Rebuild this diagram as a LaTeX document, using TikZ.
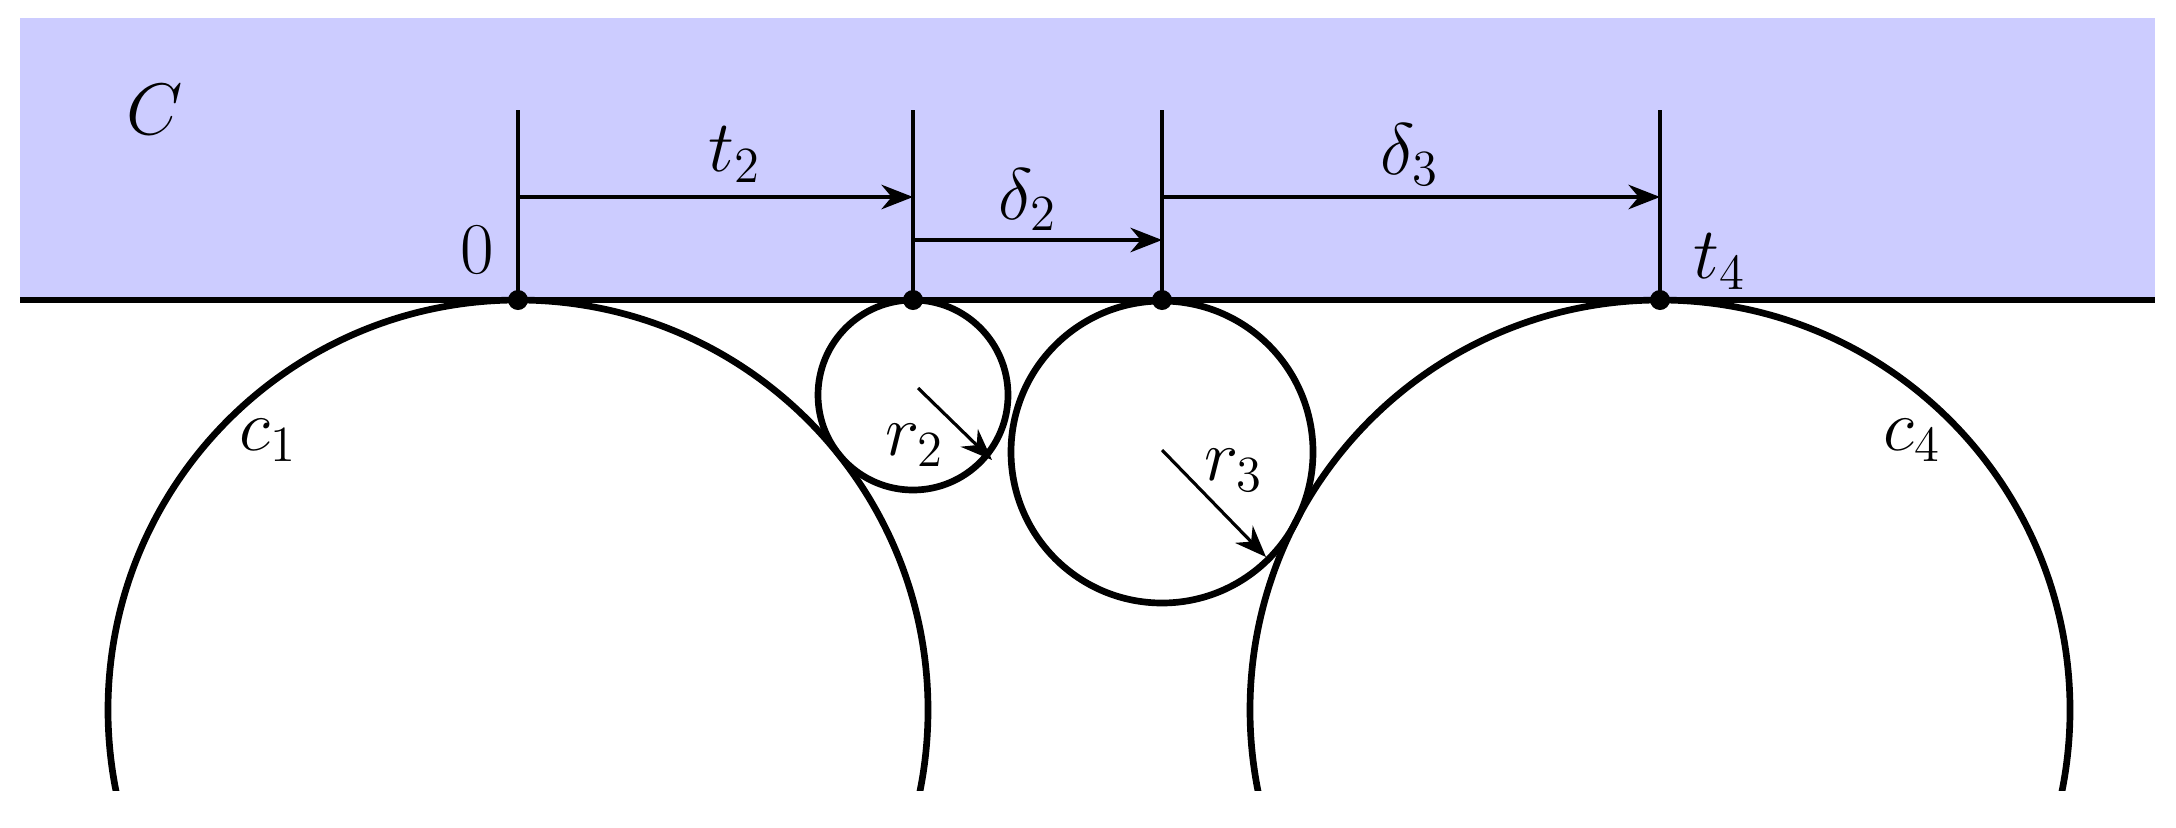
\documentclass[tikz,border=0pt]{standalone}
\usetikzlibrary{arrows.meta}
\begin{document}
\begin{tikzpicture}[x=0.01cm,y=-0.01cm,
  circ/.style={line width=1.9pt},
  dimline/.style={line width=0.9pt},
  dimarrow/.style={line width=0.9pt,-{Stealth[length=9pt,width=7pt]}},
  lbl/.style={font=\fontsize{22}{26}\selectfont}]
\useasboundingbox (0,0) rectangle (2176,827);
\fill[blue!20] (20,18) rectangle (2155,300);
\begin{scope}
\clip (0,0) rectangle (2176,790);
\draw[circ] (518,710) circle (410);
\draw[circ] (1660,710) circle (410);
\draw[circ] (913,395) circle (95);
\draw[circ] (1162,452) circle (151);
\end{scope}
\draw[line width=1.9pt] (20,300) -- (2155,300);
\coordinate (p0) at (518,300);
\coordinate (p2) at (913,300);
\coordinate (p3) at (1162,300);
\coordinate (p4) at (1660,300);
\foreach \p in {p0,p2,p3,p4} {
  \fill (\p) circle (10);
  \draw[dimline] (\p) -- ++(0,-190);
}
\draw[dimarrow] (518,197) -- (913,197);
\draw[dimarrow] (913,240) -- (1162,240);
\draw[dimarrow] (1162,197) -- (1660,197);
\draw[dimarrow] (918,388) -- (992,460);
\draw[dimarrow] (1162,450) -- (1266,557);
\node[lbl] (lC) at (155,110) {$C$};
\node[lbl] (l0) at (477,250) {$0$};
\node[lbl] (lt2) at (735,155) {$t_2$};
\node[lbl] (ld2) at (1028,200) {$\delta_2$};
\node[lbl] (ld3) at (1410,155) {$\delta_3$};
\node[lbl] (lt4) at (1720,262) {$t_4$};
\node[lbl] (lc1) at (268,440) {$c_1$};
\node[lbl] (lc4) at (1912,440) {$c_4$};
\node[lbl] (lr2) at (915,445) {$r_2$};
\node[lbl] (lr3) at (1234,470) {$r_3$};
\end{tikzpicture}
\end{document}
